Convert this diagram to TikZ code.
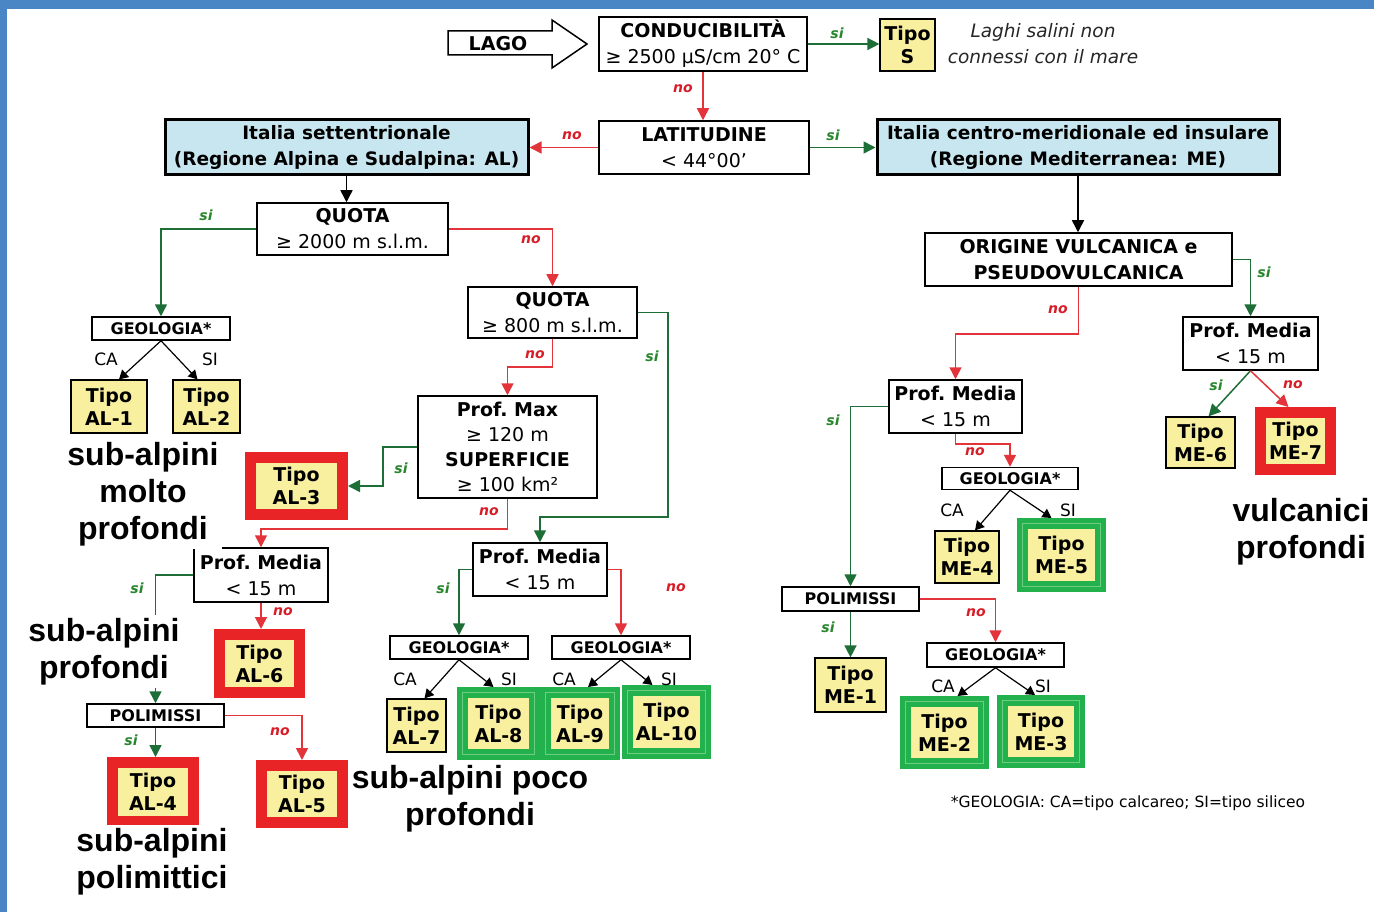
\documentclass[tikz,border=0pt]{standalone}
\usepackage{fontspec}
\setmainfont{DejaVu Sans}
\newfontfamily\bigf{Liberation Sans}
\usetikzlibrary{arrows.meta,calc}
\definecolor{frameblue}{RGB}{74,134,197}
\definecolor{skyfill}{RGB}{200,230,240}
\definecolor{tipofill}{RGB}{248,240,158}
\definecolor{redframe}{RGB}{232,36,38}
\definecolor{grnframe}{RGB}{34,177,76}
\definecolor{grnlight}{RGB}{110,205,130}
\definecolor{grnline}{RGB}{30,110,55}
\definecolor{redline}{RGB}{226,52,58}
\definecolor{silbl}{RGB}{40,135,45}
\definecolor{nolbl}{RGB}{215,30,40}
\begin{document}
\begin{tikzpicture}[x=1pt,y=-1pt,
 font=\fontsize{19}{26}\selectfont,
 dbox/.style={draw, line width=1.5pt, fill=white, inner sep=0pt, align=center},
 skybox/.style={draw, line width=3pt, fill=skyfill, inner sep=0pt, align=center, font=\fontsize{18.5}{26}\selectfont\bfseries},
 geobox/.style={draw, line width=1.5pt, fill=white, inner sep=0pt, font=\fontsize{16}{18}\selectfont\bfseries},
 tbox/.style={draw, line width=1.2pt, fill=tipofill, inner sep=0pt, align=center, font=\fontsize{19}{23}\selectfont\bfseries},
 rbox/.style={tbox, draw=redframe, line width=11pt},
 gbox/.style={tbox, draw=grnframe, line width=11pt, postaction={draw=grnlight, line width=1pt}},
 gl/.style={draw=grnline, line width=1.5pt, -{Triangle[length=12pt,width=12pt]}},
 rl/.style={draw=redline, line width=1.5pt, -{Triangle[length=12pt,width=12pt]}},
 bl/.style={draw=black, line width=1.5pt, -{Triangle[length=12pt,width=12pt]}},
 kl/.style={draw=black, line width=1.2pt, -{Triangle[length=9pt,width=10pt]}},
 sil/.style={text=silbl, font=\fontsize{14}{14}\selectfont\bfseries\itshape, inner sep=0pt},
 nol/.style={text=nolbl, font=\fontsize{14}{14}\selectfont\bfseries\itshape, inner sep=0pt},
 cal/.style={font=\fontsize{17}{17}\selectfont, inner sep=0pt},
 bigl/.style={font=\bigf\bfseries\fontsize{32}{37}\selectfont, align=center, fill=white, inner sep=3pt}
]
\useasboundingbox (0,0) rectangle (1374,912);
\fill[white] (0,0) rectangle (1374,912);
\fill[frameblue] (0,0) rectangle (1374,9);
\fill[frameblue] (0,0) rectangle (7,912);

% LAGO outline arrow
\draw[line width=1.5pt, fill=white] (448,31) -- (552,31) -- (552,20) -- (587,44) -- (552,68) -- (552,55) -- (448,55) -- cycle;
\node[font=\fontsize{19}{26}\selectfont\bfseries] (lago) at (498,44) {LAGO};

% nodes
\node[dbox, minimum width=208pt, minimum height=54pt] (cond) at (703,44) {\textbf{CONDUCIBILITÀ}\\≥ 2500 µS/cm 20° C};
\node[tbox, minimum width=55pt, minimum height=52pt] (tipoS) at (907.5,45) {Tipo\\S};
\node[font=\fontsize{18.5}{26}\selectfont\itshape, align=center, text=black!85] (laghi) at (1043,44) {Laghi salini non\\connessi con il mare};
\node[dbox, minimum width=210pt, minimum height=53pt] (lat) at (704,147.5) {\textbf{LATITUDINE}\\< 44°00’};
\node[skybox, minimum width=363pt, minimum height=55pt] (itn) at (346.5,147.5) {Italia settentrionale\\(Regione Alpina e Sudalpina: AL)};
\node[skybox, minimum width=402pt, minimum height=55pt] (its) at (1078,147.5) {Italia centro-meridionale ed insulare\\(Regione Mediterranea: ME)};
\node[dbox, minimum width=191pt, minimum height=52pt] (q2000) at (352.5,229) {\textbf{QUOTA}\\≥ 2000 m s.l.m.};
\node[geobox, minimum width=138pt, minimum height=23pt] (geo1) at (161,328.5) {GEOLOGIA*};
\node[tbox, minimum width=76pt, minimum height=53pt] (al1) at (109,406.5) {Tipo\\AL-1};
\node[tbox, minimum width=67pt, minimum height=53pt] (al2) at (206.5,406.5) {Tipo\\AL-2};
\node[dbox, minimum width=169pt, minimum height=51pt] (q800) at (552.5,312.5) {\textbf{QUOTA}\\≥ 800 m s.l.m.};
\node[dbox, minimum width=179pt, minimum height=102pt, font=\fontsize{19}{25}\selectfont] (pmax) at (507.5,447) {\textbf{Prof.\ Max}\\≥ 120 m\\\textbf{SUPERFICIE}\\≥ 100 km²};
\node[rbox, minimum width=92pt, minimum height=57pt] (al3) at (296.5,486) {Tipo\\AL-3};
\node[dbox, minimum width=134pt, minimum height=54pt] (pm1) at (261,575) {\textbf{Prof.\ Media}\\< 15 m};
\node[rbox, minimum width=80pt, minimum height=58pt] (al6) at (259.5,663.5) {Tipo\\AL-6};
\node[geobox, minimum width=137pt, minimum height=23pt] (poli1) at (155.5,715.5) {POLIMISSI};
\node[rbox, minimum width=81pt, minimum height=59pt] (al4) at (153,792) {Tipo\\AL-4};
\node[rbox, minimum width=81pt, minimum height=57pt] (al5) at (302,794) {Tipo\\AL-5};
\node[dbox, minimum width=134pt, minimum height=53pt] (pm2) at (540,569.5) {\textbf{Prof.\ Media}\\< 15 m};
\node[geobox, minimum width=138pt, minimum height=23pt] (geo2) at (459,647.5) {GEOLOGIA*};
\node[geobox, minimum width=138pt, minimum height=23pt] (geo3) at (621,647.5) {GEOLOGIA*};
\node[tbox, minimum width=59pt, minimum height=53pt] (al7) at (416.5,725.5) {Tipo\\AL-7};
\node[gbox, minimum width=72pt, minimum height=62pt] (al8) at (498.5,723.5) {Tipo\\AL-8};
\node[gbox, minimum width=69pt, minimum height=62pt] (al9) at (580,723.5) {Tipo\\AL-9};
\node[gbox, minimum width=78pt, minimum height=63pt] (al10) at (666.5,722) {Tipo\\AL-10};
\node[dbox, minimum width=307pt, minimum height=53pt] (orig) at (1078.5,259.5) {\textbf{ORIGINE VULCANICA e}\\\textbf{PSEUDOVULCANICA}};
\node[dbox, minimum width=135pt, minimum height=53pt] (pm3) at (1250.5,343.5) {\textbf{Prof.\ Media}\\< 15 m};
\node[tbox, minimum width=69pt, minimum height=51pt] (me6) at (1200.5,442.5) {Tipo\\ME-6};
\node[rbox, minimum width=70pt, minimum height=57pt] (me7) at (1295.5,441) {Tipo\\ME-7};
\node[dbox, minimum width=133pt, minimum height=53pt] (pm4) at (955.5,406.5) {\textbf{Prof.\ Media}\\< 15 m};
\node[geobox, minimum width=136pt, minimum height=22pt] (geo4) at (1010,478.5) {GEOLOGIA*};
\node[tbox, minimum width=64pt, minimum height=52pt] (me4) at (967,557) {Tipo\\ME-4};
\node[gbox, minimum width=78pt, minimum height=63pt] (me5) at (1061.5,555) {Tipo\\ME-5};
\node[geobox, minimum width=137pt, minimum height=24pt] (poli2) at (850.5,599) {POLIMISSI};
\node[tbox, minimum width=71pt, minimum height=54pt] (me1) at (850.5,685) {Tipo\\ME-1};
\node[geobox, minimum width=137pt, minimum height=24pt] (geo5) at (995.5,655) {GEOLOGIA*};
\node[gbox, minimum width=78pt, minimum height=62pt] (me2) at (944.5,732.5) {Tipo\\ME-2};
\node[gbox, minimum width=77pt, minimum height=62pt] (me3) at (1041,731.5) {Tipo\\ME-3};

% connectors: black
\draw[bl] (itn.south) -- (itn.south |- q2000.north);
\draw[bl] (its.south) -- (its.south |- orig.north);
% green
\draw[gl] (cond.east) -- (cond.east -| tipoS.west);
\draw[gl] (lat.east) -- (lat.east -| its.west);
\draw[gl] (q2000.west) -| (geo1.north);
\draw[gl] (q800.east) -| (668,517) -| (pm2.north);
\draw[gl] (pmax.west) -- (383,447) |- (al3.east);
\draw[gl] (pm1.west) -| (poli1.north);
\draw[gl] (poli1.south) -- (poli1.south |- al4.north);
\draw[gl] (pm2.west) -| (geo2.north);
\draw[gl] (orig.east) -| (pm3.north);
\draw[gl] (pm3.south) -- ([xshift=8pt]me6.north);
\draw[gl] (pm4.west) -| (poli2.north);
\draw[gl] (poli2.south) -- (me1.north);
% red
\draw[rl] (cond.south) -- (cond.south |- lat.north);
\draw[rl] (lat.west) -- (lat.west -| itn.east);
\draw[rl] (q2000.east) -| (q800.north);
\draw[rl] (q800.south) -- ++(0,28) -| (pmax.north);
\draw[rl] (pmax.south) -- ++(0,30) -| (pm1.north);
\draw[rl] (pm1.south) -- (pm1.south |- al6.north);
\draw[rl] (poli1.east) -| (al5.north);
\draw[rl] (pm2.east) -| (geo3.north);
\draw[rl] (orig.south) -- ++(0,47) -| (pm4.north);
\draw[rl] (pm3.south) -- ([xshift=-7pt]me7.north);
\draw[rl] (pm4.south) -- ++(0,10) -| (geo4.north);
\draw[rl] (poli2.east) -| (geo5.north);
% geology splits
\draw[kl] (geo1.south) -- ([xshift=10pt]al1.north);
\draw[kl] (geo1.south) -- ([xshift=-9pt]al2.north);
\draw[kl] (geo2.south) -- ([xshift=8pt]al7.north);
\draw[kl] (geo2.south) -- ([xshift=-5pt]al8.north);
\draw[kl] (geo3.south) -- ([xshift=8pt]al9.north);
\draw[kl] (geo3.south) -- ([xshift=-14pt]al10.north);
\draw[kl] (geo4.south) -- ([xshift=8pt]me4.north);
\draw[kl] (geo4.south) -- ([xshift=-10pt]me5.north);
\draw[kl] (geo5.south) -- ([xshift=13pt]me2.north);
\draw[kl] (geo5.south) -- ([xshift=-6pt]me3.north);

% si / no labels
\node[sil] (s1) at (837,33) {si};
\node[nol] (n1) at (683,89) {no};
\node[nol] (n2) at (572,136) {no};
\node[sil] (s2) at (833,135) {si};
\node[sil] (s3) at (206,215) {si};
\node[nol] (n3) at (531,240) {no};
\node[nol] (n4) at (535,355) {no};
\node[sil] (s4) at (652,356) {si};
\node[sil] (s5) at (401,468) {si};
\node[nol] (n5) at (489,512) {no};
\node[sil] (s6) at (137,588) {si};
\node[nol] (n6) at (283,612) {no};
\node[sil] (s7) at (131,740) {si};
\node[nol] (n7) at (280,732) {no};
\node[sil] (s8) at (443,588) {si};
\node[nol] (n8) at (676,588) {no};
\node[sil] (s9) at (1264,272) {si};
\node[nol] (n9) at (1058,310) {no};
\node[sil] (s10) at (1216,385) {si};
\node[nol] (n10) at (1293,385) {no};
\node[sil] (s11) at (833,420) {si};
\node[nol] (n11) at (975,452) {no};
\node[sil] (s12) at (828,627) {si};
\node[nol] (n12) at (976,613) {no};

% CA / SI labels
\node[cal] (ca1) at (106,359) {CA};
\node[cal] (si1) at (210,359) {SI};
\node[cal] (ca2) at (405,679) {CA};
\node[cal] (si2) at (509,679) {SI};
\node[cal] (ca3) at (564,679) {CA};
\node[cal] (si3) at (669,679) {SI};
\node[cal] (ca4) at (952,510) {CA};
\node[cal] (si4) at (1068,510) {SI};
\node[cal] (ca5) at (943,686) {CA};
\node[cal] (si5) at (1043,686) {SI};

% big labels
\node[bigl] (lb1) at (143,494) {sub-alpini\\molto\\profondi};
\node[bigl] (lb2) at (104,651.5) {sub-alpini\\profondi};
\node[bigl] (lb3) at (152,861.5) {sub-alpini\\polimittici};
\node[bigl] (lb4) at (470,798.5) {sub-alpini poco\\profondi};
\node[bigl] (lb5) at (1301,531.5) {vulcanici\\profondi};

% footnote
\node[font=\fontsize{15.5}{18}\selectfont, inner sep=0pt] (foot) at (1128,803) {*GEOLOGIA: CA=tipo calcareo; SI=tipo siliceo};
\end{tikzpicture}
\end{document}
